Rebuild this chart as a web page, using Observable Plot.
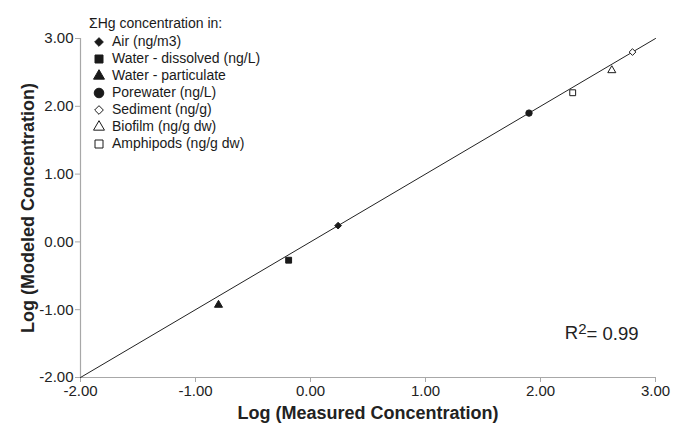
<!DOCTYPE html>
<html>
<head>
<meta charset="utf-8">
<script src="https://cdn.jsdelivr.net/npm/d3@7"></script>
<script src="https://cdn.jsdelivr.net/npm/@observablehq/plot@0.6"></script>
<style>
  html, body { margin: 0; padding: 0; background: #fff; }
  #wrap { position: relative; width: 686px; height: 427px; font-family: "Liberation Sans", Arial, Helvetica, sans-serif; }
  #legend { position: absolute; left: 89px; top: 14px; font-size: 14px; color: #1a1a1a; }
  #legend .row { height: 17px; line-height: 17px; white-space: nowrap; display: flex; align-items: center; }
  #legend .title { height: 19px; line-height: 19px; }
  #legend svg { width: 14px; height: 14px; margin-right: 6px; margin-left: 3px; flex: none; }
</style>
</head>
<body>
<div id="wrap"><div id="legend"></div></div>
<script>
const categories = ["Air (ng/m3)", "Water - dissolved (ng/L)", "Water - particulate", "Porewater (ng/L)", "Sediment (ng/g)", "Biofilm (ng/g dw)", "Amphipods (ng/g dw)"];
const measured = [0.24, -0.19, -0.80, 1.90, 2.80, 2.62, 2.28];
const modeled  = [0.24, -0.27, -0.93, 1.90, 2.80, 2.53, 2.20];
const symbols  = ["diamond2", "square", "triangle", "circle", "diamond2", "triangle", "square"];
const filled   = [true, true, true, true, false, false, false];
const fitRange = [-2, 3];
const axisTicks = [-2, -1, 0, 1, 2, 3];
const legendTitle = "\u03A3Hg concentration in:";
const r2Parts = ["R", "2", "= 0.99"];
const xTitle = "Log (Measured Concentration)";
const yTitle = "Log (Modeled Concentration)";

const radius = {diamond2: 4.9, square: 5.9, triangle: 4.8, circle: 5.5};
const data = categories.map((c, i) => ({cat: c, x: measured[i], y: modeled[i], sym: symbols[i], filled: filled[i]}));

const fmt = d => d.toFixed(2);
const font = "Liberation Sans, Arial, Helvetica, sans-serif";

const chart = Plot.plot({
  width: 686,
  height: 427,
  marginLeft: 80,
  marginRight: 31,
  marginTop: 38,
  marginBottom: 50,
  style: {fontFamily: font, background: "#fff", overflow: "visible"},
  x: {domain: [-2, 3], axis: null},
  y: {domain: [-2, 3], axis: null},
  symbol: {type: "identity"},
  marks: [
    Plot.ruleX([-2], {stroke: "#a8a8a8", strokeWidth: 1.2}),
    Plot.ruleY([-2], {stroke: "#a8a8a8", strokeWidth: 1.2}),
    Plot.axisX(axisTicks, {tickFormat: fmt, tickSize: 5, tickPadding: 3, fontSize: 15, stroke: "#a8a8a8", fill: "#222", label: null}),
    Plot.axisY(axisTicks, {tickFormat: fmt, tickSize: 5, tickPadding: 2, fontSize: 15, stroke: "#a8a8a8", fill: "#222", label: null}),
    Plot.line(fitRange, {x: d => d, y: d => d, stroke: "#222", strokeWidth: 1}),
    Plot.dot(data, {
      x: "x", y: "y",
      symbol: d => d.sym,
      r: d => radius[d.sym],
      fill: d => d.filled ? "#1a1a1a" : "#fff",
      stroke: "#1a1a1a",
      strokeWidth: 1
    }),
    Plot.text([r2Parts.join("")], {
      frameAnchor: "bottom-right", textAnchor: "end", dx: -17, dy: -39, fontSize: 18.5, fill: "#222",
      render(index, scales, values, dims, ctx, next) {
        const g = next(index, scales, values, dims, ctx);
        d3.select(g).selectAll("text").each(function() {
          const t = d3.select(this);
          t.text(null);
          t.append("tspan").text(r2Parts[0]);
          t.append("tspan").attr("dy", "-0.3em").attr("font-size", 15).text(r2Parts[1]);
          t.append("tspan").attr("dy", "0.3em").text(r2Parts[2]);
        });
        return g;
      }
    }),
    Plot.text([xTitle], {frameAnchor: "bottom", dy: 41, fontSize: 18, fontWeight: "bold", fill: "#222"}),
    Plot.text([yTitle], {frameAnchor: "left", textAnchor: "middle", rotate: -90, dx: -52, fontSize: 18, fontWeight: "bold", fill: "#222"})
  ]
});
const wrap = document.getElementById("wrap");
wrap.insertBefore(chart, wrap.firstChild);

// legend
const legend = document.getElementById("legend");
const symMap = {diamond2: d3.symbolDiamond2, square: d3.symbolSquare, triangle: d3.symbolTriangle, circle: d3.symbolCircle};
const legSize = {diamond2: 48, square: 64, triangle: 52, circle: 72};
const t = document.createElement("div");
t.className = "row title";
t.textContent = legendTitle;
legend.appendChild(t);
data.forEach(d => {
  const row = document.createElement("div");
  row.className = "row";
  const svg = d3.create("svg").attr("viewBox", "-7 -7 14 14");
  svg.append("path")
    .attr("d", d3.symbol(symMap[d.sym], legSize[d.sym])())
    .attr("fill", d.filled ? "#1a1a1a" : "#fff")
    .attr("stroke", "#1a1a1a")
    .attr("stroke-width", 1);
  row.appendChild(svg.node());
  const span = document.createElement("span");
  span.textContent = d.cat;
  row.appendChild(span);
  legend.appendChild(row);
});
</script>
</body>
</html>
